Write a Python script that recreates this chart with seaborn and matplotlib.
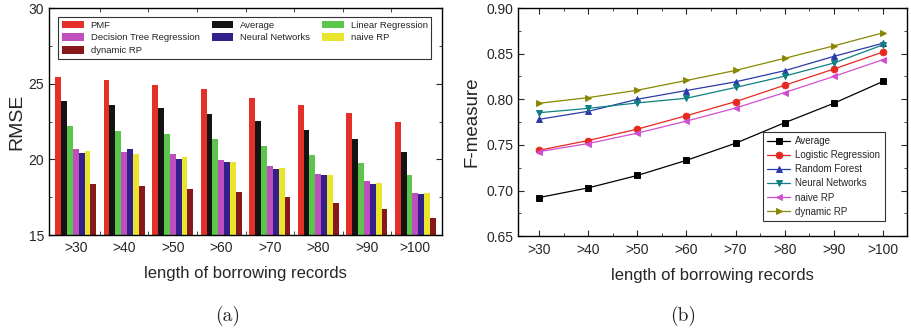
import numpy as np
import pandas as pd
import matplotlib
matplotlib.use("Agg")
import matplotlib.pyplot as plt
from matplotlib.ticker import MultipleLocator, FixedLocator
import seaborn as sns

sns.set_style("ticks")
plt.rcParams['font.family'] = ['Liberation Sans', 'DejaVu Sans']
plt.rcParams['xtick.direction'] = 'in'
plt.rcParams['ytick.direction'] = 'in'

# --- data ---
groups = [">30", ">40", ">50", ">60", ">70", ">80", ">90", ">100"]

rmse_methods = ["PMF", "Average", "Linear Regression", "Decision Tree Regression",
                "Neural Networks", "naive RP", "dynamic RP"]
rmse_pmf = [25.44, 25.24, 24.93, 24.67, 24.09, 23.58, 23.08, 22.48]
rmse_avg = [23.85, 23.60, 23.38, 23.00, 22.54, 21.95, 21.35, 20.51]
rmse_lr = [22.20, 21.88, 21.66, 21.33, 20.88, 20.31, 19.76, 18.98]
rmse_dtr = [20.69, 20.49, 20.35, 19.96, 19.56, 19.03, 18.56, 17.81]
rmse_nn = [20.42, 20.69, 20.02, 19.82, 19.36, 18.96, 18.38, 17.70]
rmse_naive = [20.55, 20.35, 20.13, 19.82, 19.45, 18.96, 18.43, 17.79]
rmse_dyn = [18.36, 18.23, 18.08, 17.83, 17.52, 17.12, 16.70, 16.11]
rmse_colors = ["#e5302a", "#141414", "#5cc64c", "#bf4fbd", "#33208c", "#ebe42c", "#87191a"]

f_methods = ["Average", "Logistic Regression", "Random Forest", "Neural Networks",
             "naive RP", "dynamic RP"]
f_avg = [0.6923, 0.7029, 0.7165, 0.7331, 0.7518, 0.7743, 0.7956, 0.8195]
f_lr = [0.7441, 0.7548, 0.7673, 0.7820, 0.7974, 0.8154, 0.8331, 0.8518]
f_rf = [0.7780, 0.7868, 0.8000, 0.8096, 0.8191, 0.8313, 0.8470, 0.8614]
f_nn = [0.7853, 0.7900, 0.7960, 0.8011, 0.8129, 0.8254, 0.8397, 0.8596]
f_naive = [0.7426, 0.7515, 0.7629, 0.7761, 0.7904, 0.8074, 0.8250, 0.8434]
f_dyn = [0.7956, 0.8018, 0.8099, 0.8206, 0.8316, 0.8449, 0.8585, 0.8728]
f_colors = ["#000000", "#e8271f", "#2a3aa8", "#0f7f80", "#d04fd0", "#888800"]
f_markers = ["s", "o", "^", "v", "<", ">"]

rmse_vals = [rmse_pmf, rmse_avg, rmse_lr, rmse_dtr, rmse_nn, rmse_naive, rmse_dyn]
f_vals = [f_avg, f_lr, f_rf, f_nn, f_naive, f_dyn]

df_rmse = pd.DataFrame([(g, m, v[i]) for m, v in zip(rmse_methods, rmse_vals)
                        for i, g in enumerate(groups)], columns=["group", "method", "rmse"])
df_f = pd.DataFrame([(g, m, v[i]) for m, v in zip(f_methods, f_vals)
                     for i, g in enumerate(groups)], columns=["group", "method", "f"])

fig = plt.figure(figsize=(9.12, 3.34), dpi=100)
ax1 = fig.add_axes([0.0537, 0.296, 0.431, 0.68])
ax2 = fig.add_axes([0.568, 0.293, 0.4265, 0.683])

# --- (a) RMSE bars ---
sns.barplot(data=df_rmse, x="group", y="rmse", hue="method", hue_order=rmse_methods,
            palette=rmse_colors, width=0.85, saturation=1, ax=ax1, edgecolor="none")
ax1.set_ylim(15, 30)
ax1.set_xlim(-0.55, 7.55)
ax1.yaxis.set_major_locator(MultipleLocator(5))
ax1.yaxis.set_minor_locator(MultipleLocator(2.5))
ax1.xaxis.set_major_locator(FixedLocator(range(8)))
ax1.set_xticklabels(groups)
ax1.xaxis.set_minor_locator(FixedLocator(np.arange(0.5, 7, 1)))
ax1.tick_params(axis="x", which="major", length=0, labelsize=10, pad=4)
ax1.tick_params(axis="x", which="minor", length=3, top=True)
ax1.tick_params(axis="y", which="both", right=True, labelsize=10)
ax1.tick_params(axis="y", which="major", length=4)
ax1.tick_params(axis="y", which="minor", length=2)
ax1.set_ylabel("RMSE", fontsize=14, labelpad=2)
ax1.set_xlabel("length of borrowing records", fontsize=12, labelpad=8)

# row-wise legend order in 3 columns
h, l = ax1.get_legend_handles_labels()
order = [0, 3, 6, 1, 4, 2, 5]
leg1 = ax1.legend([h[i] for i in order], [l[i] for i in order], ncol=3,
                  loc="upper left", bbox_to_anchor=(0.012, 0.982), fontsize=6.8,
                  frameon=True, fancybox=False, edgecolor="black", handlelength=2.3,
                  handleheight=0.9, labelspacing=0.36, columnspacing=1.3,
                  borderpad=0.4, handletextpad=0.7)
leg1.get_frame().set_linewidth(0.8)

# --- (b) F-measure lines ---
sns.pointplot(data=df_f, x="group", y="f", hue="method", hue_order=f_methods,
              palette=f_colors, markers=f_markers, linestyles="-", ax=ax2,
              markersize=4.8, linewidth=0.9, errorbar=None)
ax2.set_ylim(0.65, 0.90)
ax2.set_xlim(-0.43, 7.49)
ax2.yaxis.set_major_locator(MultipleLocator(0.05))
ax2.yaxis.set_minor_locator(MultipleLocator(0.025))
ax2.yaxis.set_major_formatter(matplotlib.ticker.FormatStrFormatter("%.2f"))
ax2.xaxis.set_minor_locator(FixedLocator(np.arange(0.5, 7, 1)))
ax2.tick_params(axis="both", which="both", top=True, right=True, labelsize=10)
ax2.tick_params(axis="both", which="major", length=4)
ax2.tick_params(axis="both", which="minor", length=2)
ax2.tick_params(axis="x", pad=5)
ax2.set_ylabel("F-measure", fontsize=13.5, labelpad=4)
ax2.set_xlabel("length of borrowing records", fontsize=12, labelpad=8)
leg2 = ax2.legend(loc="lower right", bbox_to_anchor=(0.955, 0.045), fontsize=7,
                  frameon=True, fancybox=False, edgecolor="black", handlelength=2.4,
                  labelspacing=0.42, borderpad=0.45, handletextpad=0.5)
leg2.get_frame().set_linewidth(0.8)

for ax in (ax1, ax2):
    for s in ax.spines.values():
        s.set_visible(True)
        s.set_linewidth(1.0)
        s.set_color("black")

fig.text(0.25, 0.055, "(a)", fontsize=14, ha="center", va="center", family=["cmr10", "DejaVu Serif"])
fig.text(0.749, 0.055, "(b)", fontsize=14, ha="center", va="center", family=["cmr10", "DejaVu Serif"])

fig.savefig("out.png", dpi=100, facecolor="white")
